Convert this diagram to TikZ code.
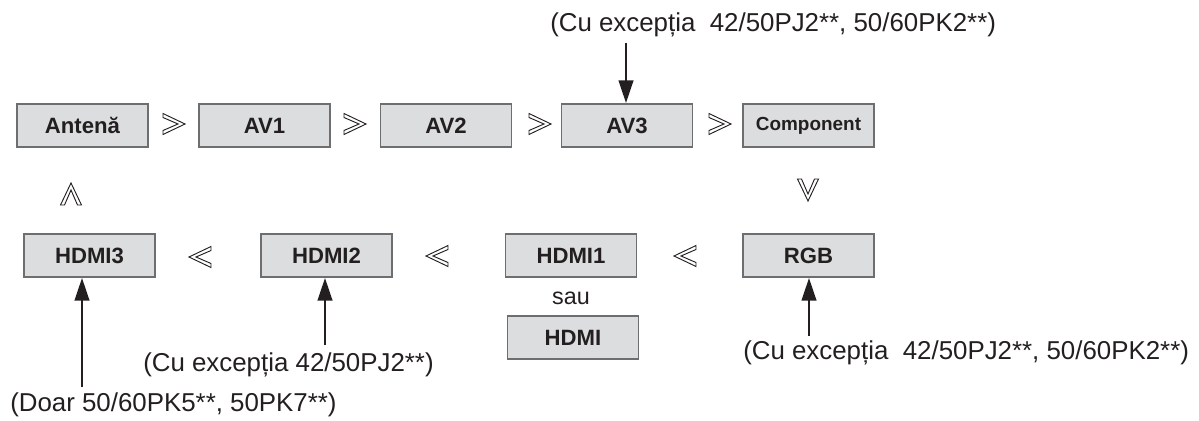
\documentclass[tikz,border=0pt]{standalone}
\usepackage{fontspec}
\setmainfont{Liberation Sans}
\usetikzlibrary{arrows.meta}
\definecolor{boxfill}{HTML}{DCDDDE}
\definecolor{boxline}{HTML}{6D6E70}
\definecolor{ink}{HTML}{231F20}
\begin{document}
\begin{tikzpicture}[x=0.75pt,y=-0.75pt,
  srcbox/.style={draw=boxline, fill=boxfill, line width=1.2pt, text=ink,
    minimum width=98.5pt, minimum height=32.5pt, inner sep=0pt,
    font=\fontsize{16.6}{19}\selectfont\bfseries},
  note/.style={text=ink, inner sep=0pt, anchor=west,
    font=\fontsize{19.4}{23}\selectfont},
  feed/.style={draw=ink, line width=1.6pt,
    -{Triangle[length=17pt,width=11pt]}},
  chev/.pic={\draw[ink, line width=0.7pt, fill=white, line join=miter]
    (-11,-10.5) -- (11,0) -- (-11,10.5) -- (-11,6.5) -- (4,0) -- (-11,-6.5) -- cycle;}
]
\useasboundingbox (0,0) rectangle (1199,421);

% top row
\node[srcbox] (ant) at (82.5,125.5) {Antenă};
\node[srcbox] (av1) at (264.5,125.5) {AV1};
\node[srcbox] (av2) at (446,125.5) {AV2};
\node[srcbox] (av3) at (627,125.5) {AV3};
\node[srcbox, font=\fontsize{14.2}{16}\selectfont\bfseries] (comp) at (808.5,125.5) {Component};

% bottom row
\node[srcbox] (hd3) at (89.5,255.5) {HDMI3};
\node[srcbox] (hd2) at (326.5,255.5) {HDMI2};
\node[srcbox] (hd1) at (571,255.5) {HDMI1};
\node[srcbox] (rgb) at (808.5,255.5) {RGB};
\node[text=ink, inner sep=0pt, font=\fontsize{17.5}{20}\selectfont] (sau) at (571,298) {sau};
\node[srcbox] (hd) at (573,337.5) {HDMI};

% chevrons
\pic at (174,124) {chev};
\pic at (355,124) {chev};
\pic at (540,124) {chev};
\pic at (720,124) {chev};
\pic[rotate=180] at (200,257) {chev};
\pic[rotate=180] at (437,256) {chev};
\pic[rotate=180] at (685,256) {chev};
\pic[rotate=90] at (71,194) {chev};
\pic[rotate=-90] at (808,190) {chev};

% notes
\node[note] (ntop) at (550,25) {(Cu excepția\ \ 42/50PJ2**, 50/60PK2**)};
\node[note] (nrgb) at (743,353) {(Cu excepția\ \ 42/50PJ2**, 50/60PK2**)};
\node[note] (nhd2) at (143,365) {(Cu excepția 42/50PJ2**)};
\node[note] (nhd3) at (10,405) {(Doar 50/60PK5**, 50PK7**)};

% feed arrows
\coordinate (a3s) at (626,43);
\coordinate (h3s) at (82,387);
\coordinate (h2s) at (325,345);
\coordinate (rgs) at (809,336);
\draw[feed] (a3s) -- (a3s |- av3.north);
\draw[feed] (h3s) -- (h3s |- hd3.south);
\draw[feed] (h2s) -- (h2s |- hd2.south);
\draw[feed] (rgs) -- (rgs |- rgb.south);
\end{tikzpicture}
\end{document}
